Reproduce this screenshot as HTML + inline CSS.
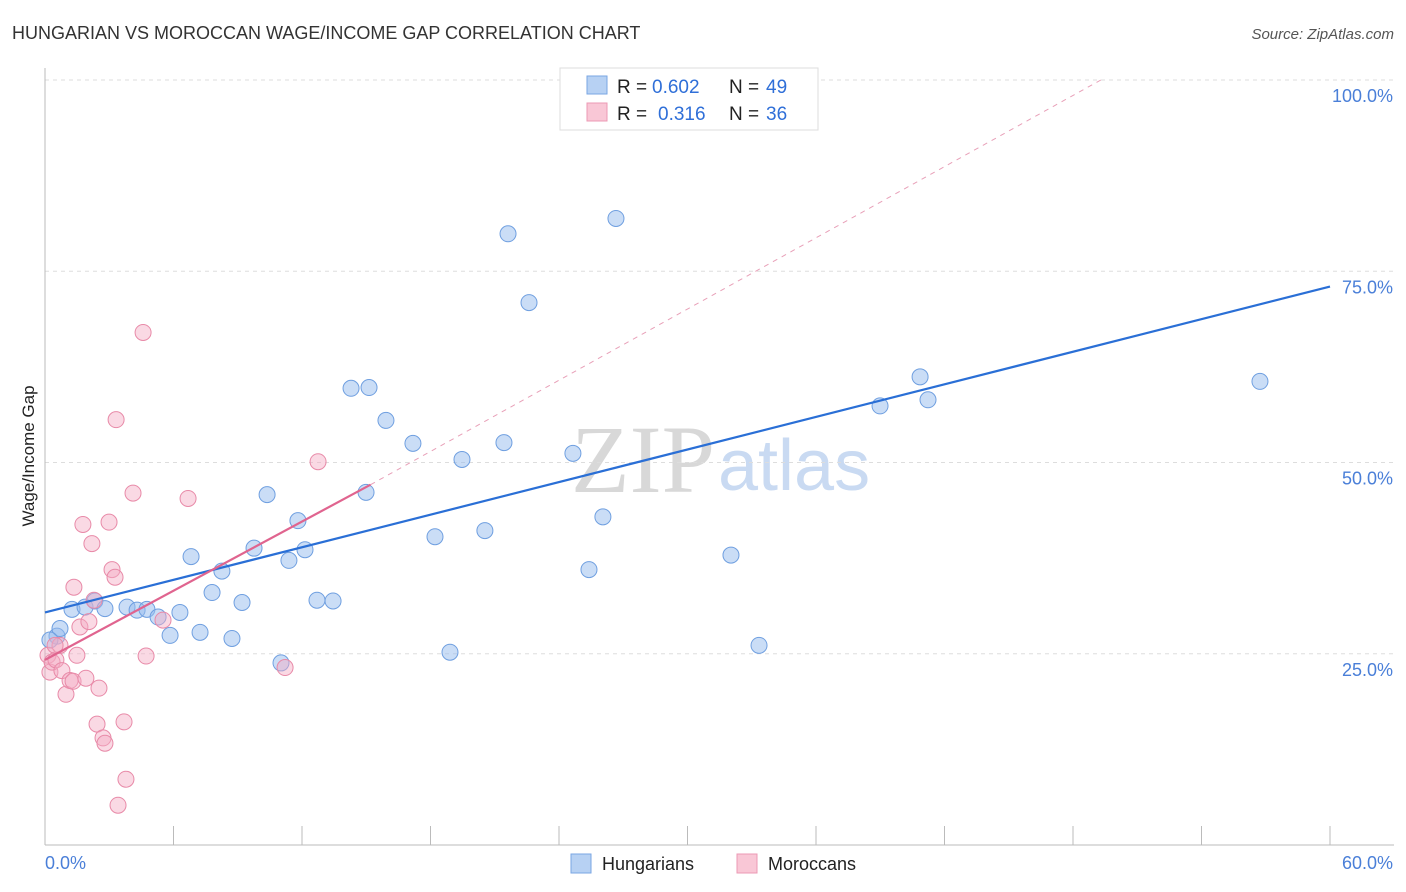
<!DOCTYPE html>
<html><head><meta charset="utf-8"><style>
body{margin:0;background:#fff;font-family:"Liberation Sans",sans-serif}
svg{display:block}
</style></head><body>
<svg id="c" width="1406" height="892" xmlns="http://www.w3.org/2000/svg">
<text x="12" y="39" font-size="18" fill="#333">HUNGARIAN VS MOROCCAN WAGE/INCOME GAP CORRELATION CHART</text>
<text x="1394" y="39" font-size="15" fill="#555" text-anchor="end" font-style="italic">Source: ZipAtlas.com</text>
<text x="715" y="492" font-size="96" fill="#d8d8d8" text-anchor="end" font-family="Liberation Serif,serif">ZIP</text>
<text x="718" y="490" font-size="72" fill="#c9daf2">atlas</text>
<text x="34" y="456" font-size="17" fill="#222" text-anchor="middle" transform="rotate(-90 34 456)">Wage/Income Gap</text>
<g id="grid"></g><g id="pts"></g><g id="lines"></g>
<g>
<rect x="560" y="68" width="258" height="62" fill="#fff" stroke="#ddd"/>
<rect x="587" y="76" width="20" height="18" fill="#b7d1f3" stroke="#7aa6e3"/>
<rect x="587" y="103" width="20" height="18" fill="#f9c7d6" stroke="#ec9ab4"/>
<text x="617" y="93" font-size="19" fill="#222">R =</text>
<text x="652" y="93" font-size="19" fill="#2f6fd8">0.602</text>
<text x="729" y="93" font-size="19" fill="#222">N =</text>
<text x="766" y="93" font-size="19" fill="#2f6fd8">49</text>
<text x="617" y="120" font-size="19" fill="#222">R =</text>
<text x="658" y="120" font-size="19" fill="#2f6fd8">0.316</text>
<text x="729" y="120" font-size="19" fill="#222">N =</text>
<text x="766" y="120" font-size="19" fill="#2f6fd8">36</text>
</g>
<g>
<rect x="571" y="854" width="20" height="19" fill="#b7d1f3" stroke="#7aa6e3"/>
<text x="602" y="870" font-size="18" fill="#222">Hungarians</text>
<rect x="737" y="854" width="20" height="19" fill="#f9c7d6" stroke="#ec9ab4"/>
<text x="768" y="870" font-size="18" fill="#222">Moroccans</text>
</g>
</svg>
<script>
const xTicks=[0,5,10,15,20,25,30,35,40,45,50,55,60];
const yTicks=[25,50,75,100];
const blueX=[0.56,0.70,1.26,1.87,2.33,2.80,3.83,4.30,4.76,5.28,5.84,6.30,6.82,7.24,7.80,8.26,8.73,9.20,9.76,10.37,11.02,11.39,11.81,12.14,12.70,13.45,14.29,14.99,15.13,15.92,17.18,18.21,18.91,19.47,20.54,21.43,21.62,22.60,24.65,25.40,26.05,26.66,32.03,33.34,38.99,40.86,41.23,56.73,0.23];
const blueY=[27.3,28.3,30.8,31.1,31.9,30.9,31.1,30.7,30.8,29.8,27.4,30.4,37.7,27.8,33.0,35.8,27.0,31.7,38.8,45.8,23.8,37.2,42.4,38.6,32.0,31.9,59.7,46.1,59.8,55.5,52.5,40.3,25.2,50.4,41.1,52.6,79.9,70.9,51.2,36.0,42.9,81.9,37.9,26.1,57.4,61.2,58.2,60.6,26.8];
const pinkX=[0.14,0.23,0.33,0.51,0.70,0.79,0.98,1.17,1.31,1.35,1.49,1.63,1.77,1.91,2.05,2.19,2.29,2.43,2.52,2.71,2.80,2.99,3.13,3.27,3.32,3.41,3.69,3.78,4.11,4.58,4.72,5.51,6.68,11.21,12.75,0.47];
const pinkY=[24.8,22.6,23.9,24.2,26.1,22.8,19.7,21.5,21.4,33.7,24.8,28.5,41.9,21.8,29.2,39.4,32.0,15.8,20.5,14.0,13.3,42.2,36.0,35.0,55.6,5.2,16.1,8.6,46.0,67.0,24.7,29.4,45.3,23.2,50.1,26.1];
const blueLine=[[0,30.4],[60,73.0]];
const pinkLine=[[0,24.2],[15.2,47.1]];
const pinkDash=[[15.2,47.1],[49.3,100]];
const X=v=>45+v*1285/60, Y=v=>845-v*7.65;
const NS="http://www.w3.org/2000/svg";
function mk(p,t,a){const e=document.createElementNS(NS,t);for(const k in a)e.setAttribute(k,a[k]);p.appendChild(e);return e;}
const g=document.getElementById('grid'),pts=document.getElementById('pts'),ln=document.getElementById('lines');
yTicks.forEach(t=>{const l=mk(g,'line',{x1:45,x2:1394,y1:Y(t),y2:Y(t),stroke:'#ddd','stroke-dasharray':'4,4'});


const tx=mk(g,'text',{x:1393,y:Y(t)+22,'font-size':18,fill:'#4a7fd8','text-anchor':'end'});tx.textContent=t.toFixed(1)+'%';

});
mk(g,'line',{x1:45,x2:45,y1:68,y2:845,stroke:'#bbb'});
mk(g,'line',{x1:45,x2:1394,y1:845,y2:845,stroke:'#bbb'});
for(let i=0;i<=10;i++){const v=i*6;const l=mk(g,'line',{x1:X(v),x2:X(v),y1:826,y2:845,stroke:'#bbb'});

}
const xl0=mk(g,'text',{x:45,y:869,'font-size':18,fill:'#4a7fd8'});xl0.textContent=xTicks[0].toFixed(1)+'%';


const xl1=mk(g,'text',{x:1393,y:869,'font-size':18,fill:'#4a7fd8','text-anchor':'end'});xl1.textContent=xTicks[xTicks.length-1].toFixed(1)+'%';


blueX.forEach((v,i)=>{const e=mk(pts,'circle',{cx:X(v),cy:Y(blueY[i]),r:8,fill:'rgba(150,188,238,0.5)',stroke:'#6f9fe0','stroke-width':1});

});
pinkX.forEach((v,i)=>{const e=mk(pts,'circle',{cx:X(v),cy:Y(pinkY[i]),r:8,fill:'rgba(245,170,195,0.45)',stroke:'#e88aa8','stroke-width':1});

});
const d=mk(ln,'line',{x1:X(pinkDash[0][0]),y1:Y(pinkDash[0][1]),x2:X(pinkDash[1][0]),y2:Y(pinkDash[1][1]),stroke:'#e8a0b8','stroke-dasharray':'5,5'});


const b=mk(ln,'line',{x1:X(blueLine[0][0]),y1:Y(blueLine[0][1]),x2:X(blueLine[1][0]),y2:Y(blueLine[1][1]),stroke:'#2a6fd6','stroke-width':2.2});


const p=mk(ln,'line',{x1:X(pinkLine[0][0]),y1:Y(pinkLine[0][1]),x2:X(pinkLine[1][0]),y2:Y(pinkLine[1][1]),stroke:'#e0648f','stroke-width':2.2});


</script>
</body></html>
